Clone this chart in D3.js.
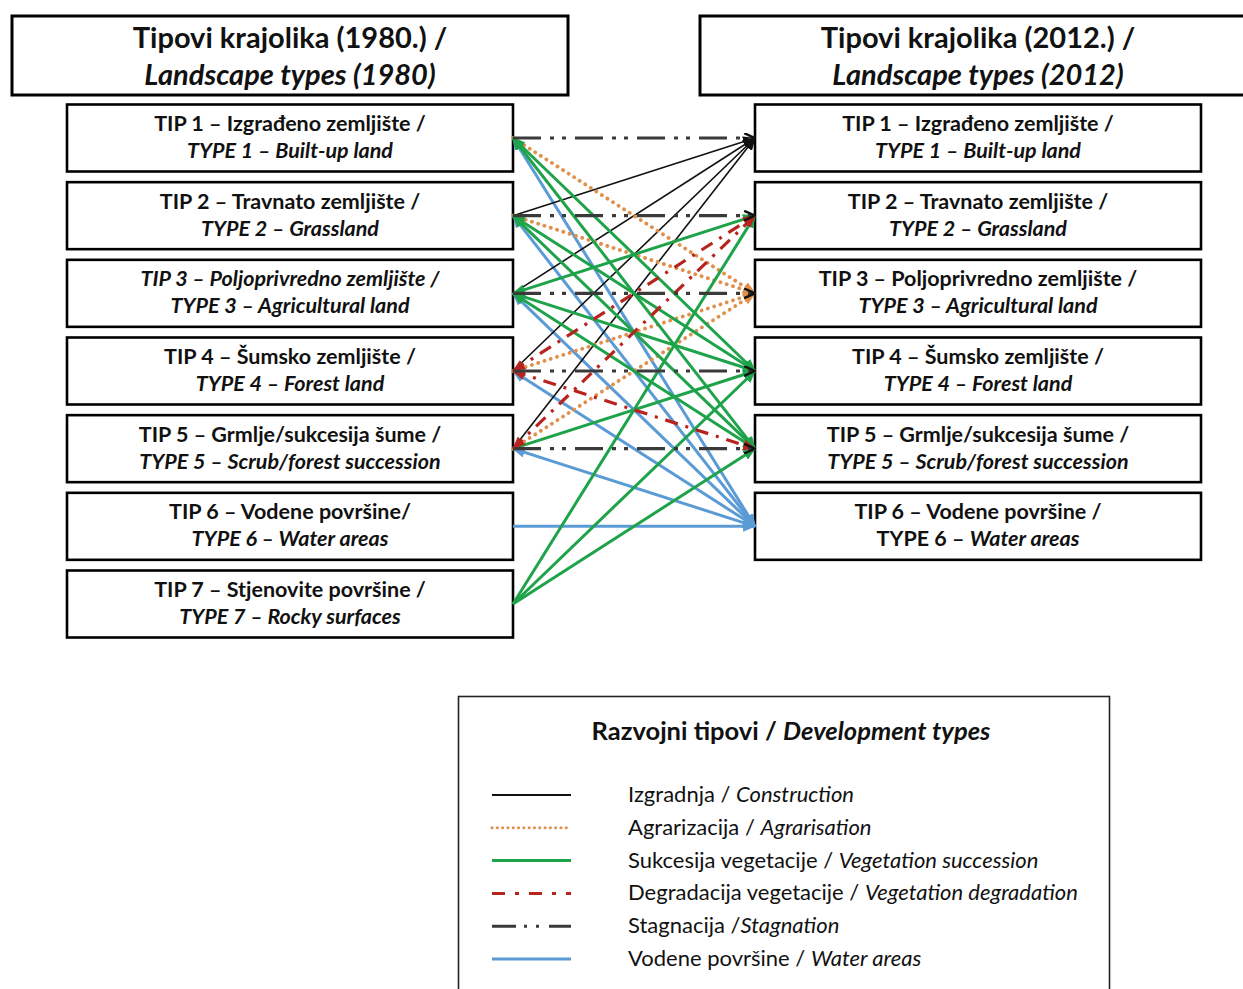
<!DOCTYPE html>
<html>
<head>
<meta charset="utf-8">
<script src="https://cdn.jsdelivr.net/npm/d3@7/dist/d3.min.js"></script>
<style>
  html, body { margin: 0; padding: 0; background: #fff; }
  svg { display: block; }
  text { font-family: Lato, "Open Sans", "DejaVu Sans", sans-serif; fill: #111; }
</style>
</head>
<body>
<svg id="chart" width="1243" height="989"></svg>
<script>
// ---------------- DATA ----------------
const headerLeft = [["Tipovi krajolika (1980.) /", false], ["Landscape types (1980)", true]];
const headerRight = [["Tipovi krajolika (2012.) /", false], ["Landscape types (2012)", true]];

// each type: id, line 1 segments, line 2 segments ([text, italic])
const leftTypes = [
  {id: 1, l1: [["TIP 1 – Izgrađeno zemljište /", false]], l2: [["TYPE 1 – Built-up land", true]]},
  {id: 2, l1: [["TIP 2 – Travnato zemljište /", false]], l2: [["TYPE 2 – Grassland", true]]},
  {id: 3, l1: [["TIP 3 – Poljoprivredno zemljište /", true]], l2: [["TYPE 3 – Agricultural land", true]]},
  {id: 4, l1: [["TIP 4 – Šumsko zemljište /", false]], l2: [["TYPE 4 – Forest land", true]]},
  {id: 5, l1: [["TIP 5 – Grmlje/sukcesija šume /", false]], l2: [["TYPE 5 – Scrub/forest succession", true]]},
  {id: 6, l1: [["TIP 6 – Vodene površine/", false]], l2: [["TYPE 6 – Water areas", true]]},
  {id: 7, l1: [["TIP 7 – Stjenovite površine /", false]], l2: [["TYPE 7 – Rocky surfaces", true]]}
];
const rightTypes = [
  {id: 1, l1: [["TIP 1 – Izgrađeno zemljište /", false]], l2: [["TYPE 1 – Built-up land", true]]},
  {id: 2, l1: [["TIP 2 – Travnato zemljište /", false]], l2: [["TYPE 2 – Grassland", true]]},
  {id: 3, l1: [["TIP 3 – Poljoprivredno zemljište /", false]], l2: [["TYPE 3 – Agricultural land", true]]},
  {id: 4, l1: [["TIP 4 – Šumsko zemljište /", false]], l2: [["TYPE 4 – Forest land", true]]},
  {id: 5, l1: [["TIP 5 – Grmlje/sukcesija šume /", false]], l2: [["TYPE 5 –  Scrub/forest succession", true]]},
  {id: 6, l1: [["TIP 6 – Vodene površine /", false]], l2: [["TYPE 6 – ", false], ["Water areas", true]]}
];

// transitions [from 1980 type, to 2012 type]
const stagnation   = [[1, 1], [2, 2], [3, 3], [4, 4], [5, 5]];
const water        = [[1, 6], [2, 6], [3, 6], [4, 6], [5, 6], [6, 6]];
const construction = [[2, 1], [3, 1], [4, 1], [5, 1]];
const agrarisation = [[1, 3], [2, 3], [4, 3], [5, 3]];
const degradation  = [[4, 2], [5, 2], [4, 5]];
const succession   = [[1, 4], [1, 5], [2, 4], [2, 5], [3, 2], [3, 4], [3, 5], [5, 4], [7, 2], [7, 4], [7, 5]];

// types whose links also carry an arrowhead at the 1980 end
const startHeads = {water: [1, 2, 3, 4, 5], degradation: [4, 5], succession: [1, 2, 3]};

const legendTitle = [["Razvojni tipovi / ", false], ["Development types", true]];
const legendItems = [
  {key: "construction", label: [["Izgradnja / ", false], ["Construction", true]]},
  {key: "agrarisation", label: [["Agrarizacija / ", false], ["Agrarisation", true]]},
  {key: "succession",   label: [["Sukcesija vegetacije / ", false], ["Vegetation succession", true]]},
  {key: "degradation",  label: [["Degradacija vegetacije / ", false], ["Vegetation degradation", true]]},
  {key: "stagnation",   label: [["Stagnacija /", false], ["Stagnation", true]]},
  {key: "water",        label: [["Vodene površine / ", false], ["Water areas", true]]}
];

// ---------------- STYLES ----------------
const styles = {
  construction: {color: "#111111", width: 1.6, dash: null, cap: "butt"},
  agrarisation: {color: "#e0904a", width: 3.8, dash: "0.1,6.5", cap: "round"},
  succession:   {color: "#1fa34a", width: 3, dash: null, cap: "butt"},
  degradation:  {color: "#b7241f", width: 3.2, dash: "13,8,3,8", cap: "butt"},
  stagnation:   {color: "#3a3a3a", width: 3.2, dash: "28,9,4,8,4,9", cap: "butt"},
  water:        {color: "#5b9bd5", width: 3, dash: null, cap: "butt"}
};
const legendDash = {
  degradation: "13,10,4,10",
  stagnation: "24,8,3,9,3,10"
};

// ---------------- LAYOUT ----------------
const svg = d3.select("#chart");
const y = d3.scalePoint().domain(d3.range(1, 8)).range([138, 604]);
const boxH = 67;
const leftX = [67, 513], rightX = [755, 1201];

function addSegments(textSel, segs) {
  segs.forEach(([t, it]) => {
    textSel.append("tspan").attr("font-style", it ? "italic" : "normal").text(t);
  });
}

// headers
function header(x0, x1, lines) {
  svg.append("rect").attr("x", x0).attr("y", 16).attr("width", x1 - x0).attr("height", 79)
    .attr("fill", "#fff").attr("stroke", "#000").attr("stroke-width", 3);
  const cx = (x0 + x1) / 2;
  lines.forEach(([t, it], i) => {
    svg.append("text").attr("x", cx).attr("y", i === 0 ? 48 : 85)
      .attr("text-anchor", "middle").attr("font-size", 29).attr("font-weight", 700)
      .attr("font-style", it ? "italic" : "normal").text(t);
  });
}
header(12, 568, headerLeft);
header(700, 1256, headerRight);

// type boxes
function boxes(data, xr, cls) {
  const g = svg.append("g").attr("class", cls);
  const b = g.selectAll("g").data(data).join("g");
  b.append("rect").attr("x", xr[0]).attr("y", d => y(d.id) - boxH / 2)
    .attr("width", xr[1] - xr[0]).attr("height", boxH)
    .attr("fill", "#fff").attr("stroke", "#000").attr("stroke-width", 2.6);
  const cx = (xr[0] + xr[1]) / 2;
  b.each(function(d) {
    const gg = d3.select(this);
    const t1 = gg.append("text").attr("x", cx).attr("y", y(d.id) - 7)
      .attr("text-anchor", "middle").attr("font-size", 21.5).attr("font-weight", 700);
    addSegments(t1, d.l1);
    const t2 = gg.append("text").attr("x", cx).attr("y", y(d.id) + 20)
      .attr("text-anchor", "middle").attr("font-size", 21.5).attr("font-weight", 700);
    addSegments(t2, d.l2);
  });
}
boxes(leftTypes, leftX, "left");
boxes(rightTypes, rightX, "right");

// markers
const defs = svg.append("defs");
Object.entries(styles).forEach(([k, s]) => {
  const m = defs.append("marker").attr("id", "arr-" + k)
    .attr("viewBox", "0 0 12 10").attr("refX", 11).attr("refY", 5)
    .attr("markerWidth", 13).attr("markerHeight", 11)
    .attr("markerUnits", "userSpaceOnUse").attr("orient", "auto-start-reverse");
  if (k === "stagnation") {
    m.append("path").attr("d", "M1,0.5 L11,5 L1,9.5").attr("fill", "none")
      .attr("stroke", "#111").attr("stroke-width", 2.2);
  } else {
    m.append("path").attr("d", "M0,0 L12,5 L0,10 Z").attr("fill", s.color);
  }
});

// links
const linkSets = {stagnation, water, construction, agrarisation, degradation, succession};
const order = ["water", "construction", "agrarisation", "succession", "degradation", "stagnation"];
const lg = svg.append("g").attr("class", "links");
order.forEach(k => {
  const s = styles[k];
  lg.append("g").selectAll("line").data(linkSets[k]).join("line")
    .attr("x1", leftX[1]).attr("y1", d => y(d[0]))
    .attr("x2", rightX[0]).attr("y2", d => y(d[1]))
    .attr("stroke", s.color).attr("stroke-width", s.width)
    .attr("stroke-dasharray", s.dash).attr("stroke-linecap", s.cap)
    .attr("marker-end", "url(#arr-" + k + ")")
    .attr("marker-start", d => (startHeads[k] || []).includes(d[0]) ? "url(#arr-" + k + ")" : null);
});

// legend
svg.append("rect").attr("x", 458.5).attr("y", 696.5).attr("width", 651).attr("height", 320)
  .attr("fill", "#fff").attr("stroke", "#222").attr("stroke-width", 1.6);
const lt = svg.append("text").attr("x", 791).attr("y", 740).attr("text-anchor", "middle")
  .attr("font-size", 25.5).attr("font-weight", 700);
addSegments(lt, legendTitle);
const ly = d3.scalePoint().domain(legendItems.map(d => d.key)).range([795, 959]);
const li = svg.append("g").selectAll("g").data(legendItems).join("g");
li.append("line").attr("x1", 492).attr("x2", 571).attr("y1", d => ly(d.key)).attr("y2", d => ly(d.key))
  .attr("stroke", d => styles[d.key].color)
  .attr("stroke-width", d => d.key === "construction" ? 2 : 3)
  .attr("stroke-dasharray", d => legendDash[d.key] || (d.key === "agrarisation" ? "0.1,5.2" : null))
  .attr("stroke-linecap", d => styles[d.key].cap);
li.each(function(d) {
  const t = d3.select(this).append("text").attr("x", 628).attr("y", ly(d.key) + 7)
    .attr("font-size", 22);
  addSegments(t, d.label);
});
</script>
</body>
</html>
